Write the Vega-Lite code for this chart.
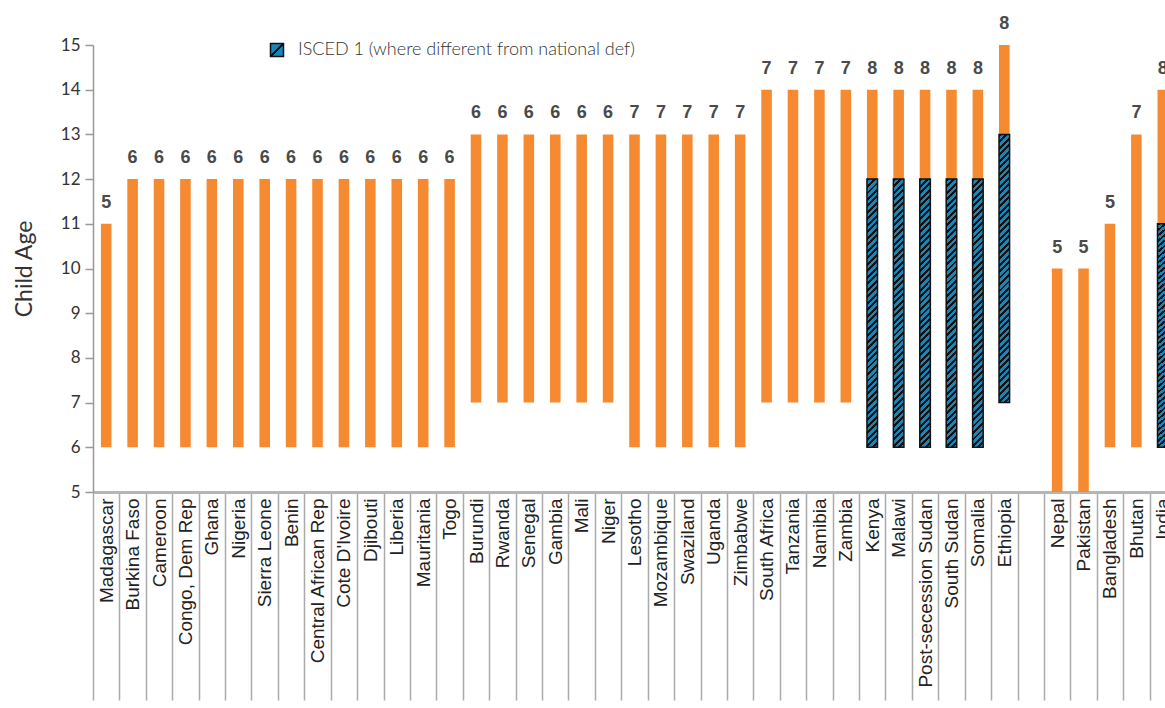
{
  "$schema": "https://vega.github.io/schema/vega-lite/v6.json",
  "width": 1072,
  "height": 447,
  "autosize": {"type": "none"},
  "padding": {"left": 93, "top": 45, "right": 0, "bottom": 216},
  "config": {"view": {"stroke": null}, "axis": {"grid": false}, "font": "Lato"},
  "data": {"values": [
    {"country": "Madagascar", "start": 6, "end": 11, "years": 5, "isced_start": null, "isced_end": null},
    {"country": "Burkina Faso", "start": 6, "end": 12, "years": 6, "isced_start": null, "isced_end": null},
    {"country": "Cameroon", "start": 6, "end": 12, "years": 6, "isced_start": null, "isced_end": null},
    {"country": "Congo, Dem Rep", "start": 6, "end": 12, "years": 6, "isced_start": null, "isced_end": null},
    {"country": "Ghana", "start": 6, "end": 12, "years": 6, "isced_start": null, "isced_end": null},
    {"country": "Nigeria", "start": 6, "end": 12, "years": 6, "isced_start": null, "isced_end": null},
    {"country": "Sierra Leone", "start": 6, "end": 12, "years": 6, "isced_start": null, "isced_end": null},
    {"country": "Benin", "start": 6, "end": 12, "years": 6, "isced_start": null, "isced_end": null},
    {"country": "Central African Rep", "start": 6, "end": 12, "years": 6, "isced_start": null, "isced_end": null},
    {"country": "Cote D'Ivoire", "start": 6, "end": 12, "years": 6, "isced_start": null, "isced_end": null},
    {"country": "Djibouti", "start": 6, "end": 12, "years": 6, "isced_start": null, "isced_end": null},
    {"country": "Liberia", "start": 6, "end": 12, "years": 6, "isced_start": null, "isced_end": null},
    {"country": "Mauritania", "start": 6, "end": 12, "years": 6, "isced_start": null, "isced_end": null},
    {"country": "Togo", "start": 6, "end": 12, "years": 6, "isced_start": null, "isced_end": null},
    {"country": "Burundi", "start": 7, "end": 13, "years": 6, "isced_start": null, "isced_end": null},
    {"country": "Rwanda", "start": 7, "end": 13, "years": 6, "isced_start": null, "isced_end": null},
    {"country": "Senegal", "start": 7, "end": 13, "years": 6, "isced_start": null, "isced_end": null},
    {"country": "Gambia", "start": 7, "end": 13, "years": 6, "isced_start": null, "isced_end": null},
    {"country": "Mali", "start": 7, "end": 13, "years": 6, "isced_start": null, "isced_end": null},
    {"country": "Niger", "start": 7, "end": 13, "years": 6, "isced_start": null, "isced_end": null},
    {"country": "Lesotho", "start": 6, "end": 13, "years": 7, "isced_start": null, "isced_end": null},
    {"country": "Mozambique", "start": 6, "end": 13, "years": 7, "isced_start": null, "isced_end": null},
    {"country": "Swaziland", "start": 6, "end": 13, "years": 7, "isced_start": null, "isced_end": null},
    {"country": "Uganda", "start": 6, "end": 13, "years": 7, "isced_start": null, "isced_end": null},
    {"country": "Zimbabwe", "start": 6, "end": 13, "years": 7, "isced_start": null, "isced_end": null},
    {"country": "South Africa", "start": 7, "end": 14, "years": 7, "isced_start": null, "isced_end": null},
    {"country": "Tanzania", "start": 7, "end": 14, "years": 7, "isced_start": null, "isced_end": null},
    {"country": "Namibia", "start": 7, "end": 14, "years": 7, "isced_start": null, "isced_end": null},
    {"country": "Zambia", "start": 7, "end": 14, "years": 7, "isced_start": null, "isced_end": null},
    {"country": "Kenya", "start": 6, "end": 14, "years": 8, "isced_start": 6, "isced_end": 12},
    {"country": "Malawi", "start": 6, "end": 14, "years": 8, "isced_start": 6, "isced_end": 12},
    {"country": "Post-secession Sudan", "start": 6, "end": 14, "years": 8, "isced_start": 6, "isced_end": 12},
    {"country": "South Sudan", "start": 6, "end": 14, "years": 8, "isced_start": 6, "isced_end": 12},
    {"country": "Somalia", "start": 6, "end": 14, "years": 8, "isced_start": 6, "isced_end": 12},
    {"country": "Ethiopia", "start": 7, "end": 15, "years": 8, "isced_start": 7, "isced_end": 13},
    {"country": "Nepal", "start": 5, "end": 10, "years": 5, "isced_start": null, "isced_end": null},
    {"country": "Pakistan", "start": 5, "end": 10, "years": 5, "isced_start": null, "isced_end": null},
    {"country": "Bangladesh", "start": 6, "end": 11, "years": 5, "isced_start": null, "isced_end": null},
    {"country": "Bhutan", "start": 6, "end": 13, "years": 7, "isced_start": null, "isced_end": null},
    {"country": "India", "start": 6, "end": 14, "years": 8, "isced_start": 6, "isced_end": 11}
  ]},
  "encoding": {
    "x": {
      "field": "country", "type": "nominal", "title": null,
      "scale": {
        "type": "band",
        "domain": ["Madagascar", "Burkina Faso", "Cameroon", "Congo, Dem Rep", "Ghana", "Nigeria", "Sierra Leone", "Benin", "Central African Rep", "Cote D'Ivoire", "Djibouti", "Liberia", "Mauritania", "Togo", "Burundi", "Rwanda", "Senegal", "Gambia", "Mali", "Niger", "Lesotho", "Mozambique", "Swaziland", "Uganda", "Zimbabwe", "South Africa", "Tanzania", "Namibia", "Zambia", "Kenya", "Malawi", "Post-secession Sudan", "South Sudan", "Somalia", "Ethiopia", "_gap", "Nepal", "Pakistan", "Bangladesh", "Bhutan", "India"],
        "range": [0, 1083],
        "paddingInner": 0,
        "paddingOuter": 0
      },
      "axis": {
        "title": null, "labelAngle": -90, "labelFont": "Liberation Sans", "labelFontSize": 19,
        "labelColor": "#222", "labelPadding": -202, "labelLimit": 300, "labelOverlap": false,
        "labelExpr": "datum.value == '_gap' ? '' : datum.value",
        "tickBand": "extent", "tickSize": 208, "tickColor": "#aaa", "tickWidth": 1.5,
        "domainColor": "#b5b5b5", "domainWidth": 3
      }
    }
  },
  "layer": [
    {
      "mark": {"type": "bar", "fill": "#f58a31", "width": {"band": 0.4}},
      "encoding": {
        "y": {
          "field": "start", "type": "quantitative", "title": "Child Age",
          "scale": {"domain": [5, 15], "nice": false, "zero": false},
          "axis": {
            "title": "Child Age", "values": [5, 6, 7, 8, 9, 10, 11, 12, 13, 14, 15],
            "titleFont": "Lato", "titleFontSize": 23, "titleFontWeight": "normal", "titleColor": "#333", "titlePadding": 24,
            "labelFont": "Lato", "labelFontSize": 17, "labelColor": "#333", "labelPadding": 5,
            "tickSize": 8, "tickColor": "#999", "tickWidth": 1.5, "domainColor": "#999", "domainWidth": 1.5
          }
        },
        "y2": {"field": "end"}
      }
    },
    {
      "transform": [{"filter": "datum.isced_end != null"}],
      "mark": {
        "type": "bar", "stroke": "#111", "strokeWidth": 1.5, "width": {"band": 0.4},
        "fill": {"gradient": "linear", "x1": 0, "y1": 0, "x2": 0.0409, "y2": 1.0378, "stops": [
          {"offset": 0, "color": "#111"}, {"offset": 0.0105, "color": "#111"}, {"offset": 0.0105, "color": "#1a86b8"}, {"offset": 0.0233, "color": "#1a86b8"},
          {"offset": 0.0233, "color": "#111"}, {"offset": 0.0338, "color": "#111"}, {"offset": 0.0338, "color": "#1a86b8"}, {"offset": 0.0465, "color": "#1a86b8"},
          {"offset": 0.0465, "color": "#111"}, {"offset": 0.057, "color": "#111"}, {"offset": 0.057, "color": "#1a86b8"}, {"offset": 0.0698, "color": "#1a86b8"},
          {"offset": 0.0698, "color": "#111"}, {"offset": 0.0803, "color": "#111"}, {"offset": 0.0803, "color": "#1a86b8"}, {"offset": 0.093, "color": "#1a86b8"},
          {"offset": 0.093, "color": "#111"}, {"offset": 0.1035, "color": "#111"}, {"offset": 0.1035, "color": "#1a86b8"}, {"offset": 0.1163, "color": "#1a86b8"},
          {"offset": 0.1163, "color": "#111"}, {"offset": 0.1268, "color": "#111"}, {"offset": 0.1268, "color": "#1a86b8"}, {"offset": 0.1395, "color": "#1a86b8"},
          {"offset": 0.1395, "color": "#111"}, {"offset": 0.15, "color": "#111"}, {"offset": 0.15, "color": "#1a86b8"}, {"offset": 0.1628, "color": "#1a86b8"},
          {"offset": 0.1628, "color": "#111"}, {"offset": 0.1733, "color": "#111"}, {"offset": 0.1733, "color": "#1a86b8"}, {"offset": 0.186, "color": "#1a86b8"},
          {"offset": 0.186, "color": "#111"}, {"offset": 0.1965, "color": "#111"}, {"offset": 0.1965, "color": "#1a86b8"}, {"offset": 0.2093, "color": "#1a86b8"},
          {"offset": 0.2093, "color": "#111"}, {"offset": 0.2198, "color": "#111"}, {"offset": 0.2198, "color": "#1a86b8"}, {"offset": 0.2326, "color": "#1a86b8"},
          {"offset": 0.2326, "color": "#111"}, {"offset": 0.2431, "color": "#111"}, {"offset": 0.2431, "color": "#1a86b8"}, {"offset": 0.2558, "color": "#1a86b8"},
          {"offset": 0.2558, "color": "#111"}, {"offset": 0.2663, "color": "#111"}, {"offset": 0.2663, "color": "#1a86b8"}, {"offset": 0.2791, "color": "#1a86b8"},
          {"offset": 0.2791, "color": "#111"}, {"offset": 0.2896, "color": "#111"}, {"offset": 0.2896, "color": "#1a86b8"}, {"offset": 0.3023, "color": "#1a86b8"},
          {"offset": 0.3023, "color": "#111"}, {"offset": 0.3128, "color": "#111"}, {"offset": 0.3128, "color": "#1a86b8"}, {"offset": 0.3256, "color": "#1a86b8"},
          {"offset": 0.3256, "color": "#111"}, {"offset": 0.3361, "color": "#111"}, {"offset": 0.3361, "color": "#1a86b8"}, {"offset": 0.3488, "color": "#1a86b8"},
          {"offset": 0.3488, "color": "#111"}, {"offset": 0.3593, "color": "#111"}, {"offset": 0.3593, "color": "#1a86b8"}, {"offset": 0.3721, "color": "#1a86b8"},
          {"offset": 0.3721, "color": "#111"}, {"offset": 0.3826, "color": "#111"}, {"offset": 0.3826, "color": "#1a86b8"}, {"offset": 0.3953, "color": "#1a86b8"},
          {"offset": 0.3953, "color": "#111"}, {"offset": 0.4058, "color": "#111"}, {"offset": 0.4058, "color": "#1a86b8"}, {"offset": 0.4186, "color": "#1a86b8"},
          {"offset": 0.4186, "color": "#111"}, {"offset": 0.4291, "color": "#111"}, {"offset": 0.4291, "color": "#1a86b8"}, {"offset": 0.4419, "color": "#1a86b8"},
          {"offset": 0.4419, "color": "#111"}, {"offset": 0.4524, "color": "#111"}, {"offset": 0.4524, "color": "#1a86b8"}, {"offset": 0.4651, "color": "#1a86b8"},
          {"offset": 0.4651, "color": "#111"}, {"offset": 0.4756, "color": "#111"}, {"offset": 0.4756, "color": "#1a86b8"}, {"offset": 0.4884, "color": "#1a86b8"},
          {"offset": 0.4884, "color": "#111"}, {"offset": 0.4989, "color": "#111"}, {"offset": 0.4989, "color": "#1a86b8"}, {"offset": 0.5116, "color": "#1a86b8"},
          {"offset": 0.5116, "color": "#111"}, {"offset": 0.5221, "color": "#111"}, {"offset": 0.5221, "color": "#1a86b8"}, {"offset": 0.5349, "color": "#1a86b8"},
          {"offset": 0.5349, "color": "#111"}, {"offset": 0.5454, "color": "#111"}, {"offset": 0.5454, "color": "#1a86b8"}, {"offset": 0.5581, "color": "#1a86b8"},
          {"offset": 0.5581, "color": "#111"}, {"offset": 0.5686, "color": "#111"}, {"offset": 0.5686, "color": "#1a86b8"}, {"offset": 0.5814, "color": "#1a86b8"},
          {"offset": 0.5814, "color": "#111"}, {"offset": 0.5919, "color": "#111"}, {"offset": 0.5919, "color": "#1a86b8"}, {"offset": 0.6047, "color": "#1a86b8"},
          {"offset": 0.6047, "color": "#111"}, {"offset": 0.6151, "color": "#111"}, {"offset": 0.6151, "color": "#1a86b8"}, {"offset": 0.6279, "color": "#1a86b8"},
          {"offset": 0.6279, "color": "#111"}, {"offset": 0.6384, "color": "#111"}, {"offset": 0.6384, "color": "#1a86b8"}, {"offset": 0.6512, "color": "#1a86b8"},
          {"offset": 0.6512, "color": "#111"}, {"offset": 0.6617, "color": "#111"}, {"offset": 0.6617, "color": "#1a86b8"}, {"offset": 0.6744, "color": "#1a86b8"},
          {"offset": 0.6744, "color": "#111"}, {"offset": 0.6849, "color": "#111"}, {"offset": 0.6849, "color": "#1a86b8"}, {"offset": 0.6977, "color": "#1a86b8"},
          {"offset": 0.6977, "color": "#111"}, {"offset": 0.7082, "color": "#111"}, {"offset": 0.7082, "color": "#1a86b8"}, {"offset": 0.7209, "color": "#1a86b8"},
          {"offset": 0.7209, "color": "#111"}, {"offset": 0.7314, "color": "#111"}, {"offset": 0.7314, "color": "#1a86b8"}, {"offset": 0.7442, "color": "#1a86b8"},
          {"offset": 0.7442, "color": "#111"}, {"offset": 0.7547, "color": "#111"}, {"offset": 0.7547, "color": "#1a86b8"}, {"offset": 0.7674, "color": "#1a86b8"},
          {"offset": 0.7674, "color": "#111"}, {"offset": 0.7779, "color": "#111"}, {"offset": 0.7779, "color": "#1a86b8"}, {"offset": 0.7907, "color": "#1a86b8"},
          {"offset": 0.7907, "color": "#111"}, {"offset": 0.8012, "color": "#111"}, {"offset": 0.8012, "color": "#1a86b8"}, {"offset": 0.814, "color": "#1a86b8"},
          {"offset": 0.814, "color": "#111"}, {"offset": 0.8244, "color": "#111"}, {"offset": 0.8244, "color": "#1a86b8"}, {"offset": 0.8372, "color": "#1a86b8"},
          {"offset": 0.8372, "color": "#111"}, {"offset": 0.8477, "color": "#111"}, {"offset": 0.8477, "color": "#1a86b8"}, {"offset": 0.8605, "color": "#1a86b8"},
          {"offset": 0.8605, "color": "#111"}, {"offset": 0.871, "color": "#111"}, {"offset": 0.871, "color": "#1a86b8"}, {"offset": 0.8837, "color": "#1a86b8"},
          {"offset": 0.8837, "color": "#111"}, {"offset": 0.8942, "color": "#111"}, {"offset": 0.8942, "color": "#1a86b8"}, {"offset": 0.907, "color": "#1a86b8"},
          {"offset": 0.907, "color": "#111"}, {"offset": 0.9175, "color": "#111"}, {"offset": 0.9175, "color": "#1a86b8"}, {"offset": 0.9302, "color": "#1a86b8"},
          {"offset": 0.9302, "color": "#111"}, {"offset": 0.9407, "color": "#111"}, {"offset": 0.9407, "color": "#1a86b8"}, {"offset": 0.9535, "color": "#1a86b8"},
          {"offset": 0.9535, "color": "#111"}, {"offset": 0.964, "color": "#111"}, {"offset": 0.964, "color": "#1a86b8"}, {"offset": 0.9767, "color": "#1a86b8"},
          {"offset": 0.9767, "color": "#111"}, {"offset": 0.9872, "color": "#111"}, {"offset": 0.9872, "color": "#1a86b8"}, {"offset": 1, "color": "#1a86b8"}
        ]}
      },
      "encoding": {
        "y": {"field": "isced_start", "type": "quantitative", "title": "Child Age"},
        "y2": {"field": "isced_end"}
      }
    },
    {
      "transform": [{"filter": "datum.isced_end != null"}],
      "mark": {
        "type": "square", "opacity": 0, "size": 4,
        "fill": {"gradient": "linear", "x1": 0, "y1": 0, "x2": 1, "y2": 1, "stops": [
          {"offset": 0, "color": "#1a86b8"}, {"offset": 0.44, "color": "#1a86b8"},
          {"offset": 0.44, "color": "#111"}, {"offset": 0.56, "color": "#111"},
          {"offset": 0.56, "color": "#1a86b8"}, {"offset": 1, "color": "#1a86b8"}
        ]}
      },
      "encoding": {
        "y": {"field": "isced_end", "type": "quantitative", "title": "Child Age"},
        "stroke": {
          "datum": "ISCED 1 (where different from national def)",
          "scale": {"range": ["#111"]},
          "legend": {
            "orient": "none", "legendX": 175, "legendY": -4, "title": null, "padding": 0,
            "symbolType": "square", "symbolSize": 169, "symbolStrokeWidth": 1.5, "symbolOpacity": 1,
            "labelFont": "Lato", "labelFontSize": 18, "labelFontWeight": 300, "labelColor": "#333", "labelOffset": 12, "labelLimit": 500
          }
        }
      }
    },
    {
      "mark": {"type": "text", "font": "Liberation Sans", "fontSize": 18, "fontWeight": "bold", "fill": "#4a4a4a", "baseline": "alphabetic", "dy": -16},
      "encoding": {
        "y": {"field": "end", "type": "quantitative", "title": "Child Age"},
        "text": {"field": "years", "type": "quantitative"}
      }
    }
  ]
}
